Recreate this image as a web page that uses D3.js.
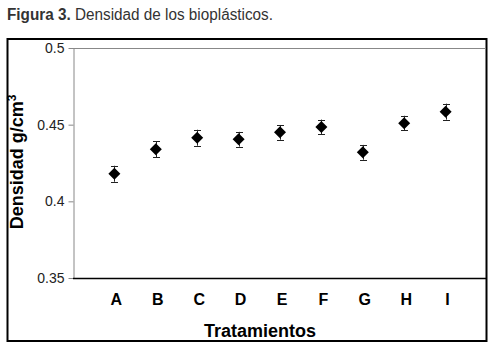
<html><head>
<meta charset="utf-8">
<title>Densidad de los bioplásticos</title>
<style>
body { margin: 0; background: #fff; }
svg text { font-family: "Liberation Sans", Arial, sans-serif; }
</style>
<script src="https://cdnjs.cloudflare.com/ajax/libs/d3/7.8.5/d3.min.js"></script>
</head>
<body>
<div id="chart"></div>
<script>
// data
const categories = ["A", "B", "C", "D", "E", "F", "G", "H", "I"];
const density = [0.418, 0.434, 0.4415, 0.4405, 0.445, 0.4485, 0.432, 0.451, 0.4585];
const errors = [0.0052, 0.0052, 0.0052, 0.0048, 0.0048, 0.0048, 0.0048, 0.0048, 0.0052];
const yTicks = [0.35, 0.4, 0.45, 0.5];

const svg = d3.select("#chart").append("svg")
  .attr("width", 492)
  .attr("height", 348);

// title (condensed look via textLength)
const title = svg.append("text")
  .attr("x", 7)
  .attr("y", 20)
  .attr("textLength", 266)
  .attr("lengthAdjust", "spacingAndGlyphs")
  .style("font-size", "16px")
  .attr("fill", "#333");
title.append("tspan").attr("font-weight", "bold").text("Figura 3.");
title.append("tspan").text(" Densidad de los bioplásticos.");

// outer frame
svg.append("rect")
  .attr("x", 7.5)
  .attr("y", 39)
  .attr("width", 479)
  .attr("height", 302)
  .attr("fill", "none")
  .attr("stroke", "#000")
  .attr("stroke-width", 2);

const x = d3.scaleLinear().domain([0, 10]).range([73, 487]);
const y = d3.scaleLinear().domain([0.35, 0.5]).range([278, 48]);

// top gridline
svg.append("line")
  .attr("x1", 73).attr("x2", 486)
  .attr("y1", y(0.5) + 0.5).attr("y2", y(0.5) + 0.5)
  .attr("stroke", "#888");

// y axis
const yAxis = svg.append("g")
  .attr("transform", "translate(73.5,0)")
  .call(d3.axisLeft(y).tickValues(yTicks).tickSize(5).tickSizeOuter(0)
    .tickFormat(d => String(+d.toFixed(2))));
yAxis.select(".domain").attr("stroke", "#888");
yAxis.selectAll(".tick line").attr("stroke", "#888");
yAxis.selectAll(".tick text")
  .attr("x", -9)
  .style("font-size", "14px")
  .attr("fill", "#222");

// x axis line
svg.append("line")
  .attr("x1", 73).attr("x2", 486)
  .attr("y1", y(0.35) + 0.5).attr("y2", y(0.35) + 0.5)
  .attr("stroke", "#000")
  .attr("stroke-width", 1.5);

// category labels
svg.selectAll(".cat")
  .data(categories)
  .join("text")
  .attr("class", "cat")
  .attr("x", (d, i) => x(i + 1) + 2)
  .attr("y", 305)
  .attr("text-anchor", "middle")
  .style("font-size", "16px")
  .style("font-weight", "bold")
  .text(d => d);

// axis titles
svg.append("text")
  .attr("x", 260)
  .attr("y", 337)
  .attr("text-anchor", "middle")
  .style("font-size", "18px")
  .style("font-weight", "bold")
  .text("Tratamientos");

const yTitle = svg.append("text")
  .attr("transform", "translate(23,162) rotate(-90)")
  .attr("text-anchor", "middle")
  .style("font-size", "18px")
  .style("font-weight", "bold");
yTitle.append("tspan").text("Densidad g/cm");
yTitle.append("tspan").attr("dy", -7).style("font-size", "12px").text("3");

// error bars
const pts = density.map((v, i) => ({ i: i + 1, v: v, e: errors[i] }));
const eb = svg.append("g").attr("stroke", "#222").attr("stroke-width", 1);
pts.forEach(p => {
  const cx = Math.round(x(p.i)) + 0.5;
  eb.append("line")
    .attr("x1", cx).attr("x2", cx)
    .attr("y1", y(p.v + p.e)).attr("y2", y(p.v - p.e));
  [p.v + p.e, p.v - p.e].forEach(val => {
    eb.append("line")
      .attr("x1", cx - 3.5).attr("x2", cx + 3.5)
      .attr("y1", Math.round(y(val)) + 0.5).attr("y2", Math.round(y(val)) + 0.5);
  });
});

// diamonds
svg.selectAll(".pt")
  .data(pts)
  .join("path")
  .attr("class", "pt")
  .attr("transform", d => `translate(${x(d.i)},${y(d.v)})`)
  .attr("d", "M0,-6L6,0L0,6L-6,0Z")
  .attr("fill", "#000");
</script>
</body>
</html>
